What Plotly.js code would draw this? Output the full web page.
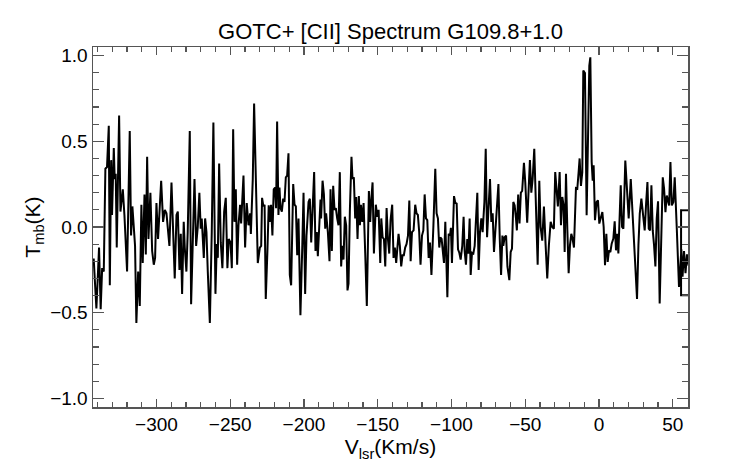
<!DOCTYPE html>
<html>
<head>
<meta charset="utf-8">
<script src="https://cdn.plot.ly/plotly-3.0.1.min.js"></script>
<style>html,body{margin:0;padding:0;background:#fff;}#chart{width:742px;height:464px;}</style>
</head>
<body>
<div id="chart"></div>
<script>
// Velocity (km/s) and main-beam temperature (K)
const velocity = [
-343.5,-342.5,-341.5,-340.7,-339.8,-338.9,-337.8,-336.8,-335.7,-334.6,-333.5,-332.3,-331.6,-330.7,-330.1,-328.9,-328.3,-327.6,-326.9,-325.3,
-324.4,-322.8,-321.7,-319.9,-318.1,-317.2,-316.3,-315.4,-314.5,-313.6,-312.4,-311.3,-310.2,-309.3,-308.1,-307.2,-306.3,-305.4,-304.1,-302.9,
-301.8,-300.9,-300.0,-298.9,-296.8,-295.5,-294.3,-293.2,-292.3,-291.2,-289.8,-288.9,-287.6,-286.4,-285.5,-284.4,-283.5,-282.6,-281.5,-280.8,
-279.7,-278.8,-277.4,-276.5,-275.4,-274.2,-273.1,-272.0,-270.9,-270.0,-269.3,-268.6,-267.9,-267.0,-266.1,-265.2,-263.8,-262.5,-261.4,-260.0,
-259.1,-258.4,-257.5,-256.4,-255.3,-254.1,-253.0,-251.9,-251.0,-249.8,-248.9,-248.0,-247.1,-246.2,-245.3,-244.4,-243.3,-242.6,-241.0,-239.9,
-238.8,-237.6,-236.5,-236.0,-234.7,-233.8,-232.4,-231.3,-229.9,-229.0,-228.4,-227.5,-226.7,-225.9,-224.8,-223.9,-223.2,-222.3,-221.4,-220.5,
-219.6,-218.9,-218.2,-217.3,-216.6,-215.9,-215.0,-214.1,-213.2,-212.3,-211.4,-210.5,-209.6,-208.7,-207.3,-206.4,-205.5,-204.6,-203.7,-202.4,
-201.2,-200.3,-199.2,-198.3,-196.9,-196.0,-195.1,-194.2,-193.1,-192.2,-191.3,-190.6,-189.7,-188.8,-188.4,-187.4,-186.5,-185.6,-185.0,-183.8,
-182.7,-182.0,-181.1,-180.2,-179.3,-178.4,-177.5,-176.6,-175.7,-174.8,-174.1,-173.2,-172.3,-171.4,-170.5,-169.8,-168.9,-167.8,-167.1,-166.2,
-165.3,-164.6,-163.7,-162.8,-162.1,-161.4,-160.5,-159.6,-158.5,-157.4,-156.0,-155.1,-154.4,-153.5,-152.6,-151.3,-150.3,-149.4,-148.3,-147.6,
-146.7,-145.8,-144.9,-144.0,-143.1,-142.2,-141.3,-140.2,-139.3,-138.4,-137.5,-136.8,-135.9,-135.0,-134.1,-133.2,-132.3,-131.4,-130.5,-129.5,
-128.6,-127.7,-126.8,-125.7,-124.6,-123.7,-122.8,-121.9,-121.0,-120.0,-119.1,-118.2,-117.3,-116.4,-115.5,-114.6,-113.6,-112.3,-111.0,-110.1,
-109.2,-108.3,-107.6,-106.7,-105.8,-105.1,-104.2,-102.8,-101.9,-101.0,-100.4,-99.7,-98.3,-97.4,-96.5,-95.6,-94.7,-93.8,-92.7,-91.8,
-91.1,-90.2,-89.3,-88.6,-87.7,-87.0,-86.1,-85.2,-84.3,-83.4,-82.5,-81.6,-80.7,-79.8,-78.9,-77.7,-76.8,-75.9,-75.0,-73.9,
-73.0,-72.1,-71.2,-70.3,-69.4,-68.2,-67.3,-66.4,-65.5,-64.9,-64.0,-63.0,-62.1,-61.5,-60.8,-59.9,-59.0,-58.1,-57.2,-56.3,
-55.7,-54.8,-53.9,-53.0,-52.1,-50.9,-50.0,-48.7,-47.75,-46.85,-45.9,-45.0,-43.9,-42.8,-41.6,-40.5,-39.6,-38.5,-37.35,-36.2,
-35.1,-34.0,-32.8,-31.7,-30.6,-29.7,-28.8,-27.9,-26.7,-25.8,-24.9,-24.0,-23.3,-22.4,-21.5,-20.6,-19.7,-18.8,-17.9,-17.0,
-15.65,-14.74,-13.84,-13.16,-12.26,-11.35,-10.67,-9.54,-8.41,-7.5,-6.6,-5.9,-5.0,-4.3,-3.66,-2.76,-1.63,-0.72,0.18,2.24,
3.14,4.05,4.95,5.86,6.76,7.67,8.57,9.7,10.6,11.5,12.4,13.1,14.0,14.7,15.6,16.5,17.8,19.0,20.1,21.5,
22.8,24.2,25.75,26.7,27.6,28.7,29.8,30.95,31.9,32.8,33.7,34.6,35.5,36.4,37.3,38.2,39.1,40.0,41.1,42.3,
43.2,44.1,45.0,45.9,46.5,47.5,48.4,49.3,50.4,51.3,52.7,54.2,55.8,56.6,57.6,58.6,59.6,60.6,62.0,62.0,
55.6,55.6,62.0
];
const tmb = [
-0.19,-0.19,-0.35,-0.475,-0.30,-0.12,-0.48,-0.24,-0.26,0.34,0.35,0.59,-0.34,0.39,0.07,0.46,0.28,0.31,-0.12,0.65,
0.09,0.22,0.07,-0.26,0.56,-0.05,0.12,-0.03,-0.11,-0.56,-0.26,-0.46,0.13,-0.21,0.19,-0.16,0.41,-0.07,0.20,-0.14,
-0.22,-0.18,0.14,-0.07,0.27,0.03,0.10,0.08,-0.03,-0.11,0.26,-0.03,-0.30,0.07,0.09,-0.25,-0.04,-0.39,0.03,-0.12,
-0.26,-0.03,0.56,-0.45,-0.03,0.28,-0.11,0.0,0.20,-0.01,0.05,-0.07,-0.18,0.05,-0.03,-0.26,-0.56,-0.03,0.61,-0.39,
-0.10,-0.18,0.37,-0.09,-0.24,0.09,0.17,-0.24,-0.07,-0.09,-0.24,0.57,0.03,0.22,-0.22,0.01,0.13,0.02,0.30,-0.12,
0.14,0.01,0.08,-0.04,0.28,0.72,0.22,-0.21,-0.12,-0.11,0.17,0.12,0.13,-0.42,-0.145,0.126,0.03,0.13,-0.05,0.22,
0.23,0.11,0.615,0.07,0.23,0.11,0.09,0.165,0.146,0.29,0.30,0.43,-0.28,-0.34,0.25,0.13,0.12,-0.165,0.05,-0.515,
-0.13,0.20,-0.39,-0.05,0.146,0.165,-0.09,0.126,0.32,-0.14,-0.03,-0.17,0.03,0.16,0.05,0.27,0.19,-0.01,0.08,-0.03,
-0.20,0.22,-0.14,0.24,0.10,0.11,0.05,0.01,0.32,-0.23,-0.11,-0.19,0.06,0.01,-0.37,-0.33,0.09,0.41,0.28,0.29,
0.05,0.175,-0.07,0.18,0.01,0.13,0.03,0.14,-0.15,-0.46,0.21,0.03,0.155,0.26,-0.155,0.13,0.06,0.10,-0.21,0.05,
-0.06,-0.07,-0.23,0.11,-0.07,-0.155,0.04,0.13,-0.18,-0.12,-0.21,-0.13,-0.04,-0.11,-0.23,-0.165,-0.165,-0.12,-0.10,-0.05,
0.155,-0.20,-0.03,-0.02,0.13,0.08,0.07,-0.03,-0.22,-0.05,-0.02,0.19,0.05,0.04,-0.18,-0.09,-0.28,0.0,0.34,0.08,
0.05,-0.12,-0.06,-0.07,-0.15,-0.21,0.03,-0.41,-0.04,-0.05,-0.005,-0.21,0.18,0.14,0.136,-0.13,-0.15,-0.19,-0.11,0.06,
-0.14,-0.22,-0.07,-0.155,0.05,-0.28,-0.15,-0.155,-0.11,0.04,0.20,-0.25,-0.03,0.05,-0.03,0.146,0.456,-0.06,0.07,0.28,
0.03,0.08,-0.146,-0.03,0.05,0.25,-0.07,-0.28,-0.05,-0.11,-0.06,-0.05,-0.23,-0.26,-0.31,-0.146,-0.126,0.146,0.126,0.05,
-0.02,0.19,0.02,0.20,0.21,0.375,0.26,0.025,0.28,0.39,0.20,0.28,0.456,0.146,-0.22,0.27,0.0,-0.08,0.12,-0.107,
-0.30,-0.107,0.03,0.0,-0.01,0.32,0.20,0.12,0.32,0.01,0.175,0.126,-0.146,0.31,-0.01,-0.27,-0.107,-0.04,-0.07,-0.12,
0.227,0.223,0.32,0.40,0.24,0.32,0.913,0.898,0.068,0.476,0.94,0.99,0.38,0.27,0.36,0.04,0.146,0.155,0.02,0.087,
0.0,-0.223,-0.04,-0.204,-0.136,-0.146,-0.097,-0.068,0.033,-0.136,-0.04,-0.155,0.165,0.243,0.0,-0.01,0.388,0.184,0.05,0.28,
0.087,-0.184,-0.42,-0.107,0.078,0.165,0.087,-0.02,0.136,0.262,-0.01,-0.02,0.243,-0.02,-0.107,-0.23,0.05,0.15,-0.446,-0.107,
0.29,0.223,0.087,0.184,0.165,0.126,0.379,0.126,0.146,0.29,-0.01,-0.35,-0.13,-0.29,-0.14,-0.27,-0.16,-0.22,-0.22,0.097,
0.097,-0.398,-0.398
];
const chartTitle = 'GOTC+ [CII] Spectrum G109.8+1.0';
const xTitle = 'V<sub>lsr</sub>(Km/s)';
const yTitle = 'T<sub>mb</sub>(K)';

const FONT = 'Liberation Sans, Arial, Helvetica, sans-serif';
const axisCommon = {
  showgrid: false, zeroline: false, showline: true, linecolor: '#555', linewidth: 1.5,
  mirror: 'allticks', ticks: 'inside', tickcolor: '#555', tickwidth: 1.2,
  tickfont: {family: FONT, size: 19, color: '#000'}
};
const layout = {
  width: 742, height: 464,
  margin: {l: 93, r: 54, t: 47, b: 57},
  paper_bgcolor: '#fff', plot_bgcolor: '#fff',
  showlegend: false,
  title: {text: chartTitle, font: {family: FONT, size: 22, color: '#000'},
          x: 0.5, xref: 'paper', y: 1 - 31/464, yref: 'container', yanchor: 'middle'},
  xaxis: Object.assign({}, axisCommon, {
    range: [-343, 60.3], tick0: 0, dtick: 50, ticklen: 8,
    minor: {dtick: 10, tick0: 0, ticklen: 5, ticks: 'inside', tickcolor: '#555', tickwidth: 1.2},
    title: {text: xTitle, font: {family: FONT, size: 21, color: '#000'}, standoff: 2}
  }),
  yaxis: Object.assign({}, axisCommon, {
    range: [-1.05, 1.05], tick0: 0, dtick: 0.5, tickformat: '.1f', ticklen: 11,
    minor: {dtick: 0.1, tick0: 0, ticklen: 6, ticks: 'inside', tickcolor: '#555', tickwidth: 1.2},
    title: {text: yTitle, font: {family: FONT, size: 21, color: '#000'}, standoff: 4}
  })
};
const trace = {
  x: velocity, y: tmb, type: 'scatter', mode: 'lines',
  line: {color: '#000', width: 2}, hoverinfo: 'skip'
};
Plotly.newPlot('chart', [trace], layout, {staticPlot: true, displayModeBar: false});
</script>
</body>
</html>
